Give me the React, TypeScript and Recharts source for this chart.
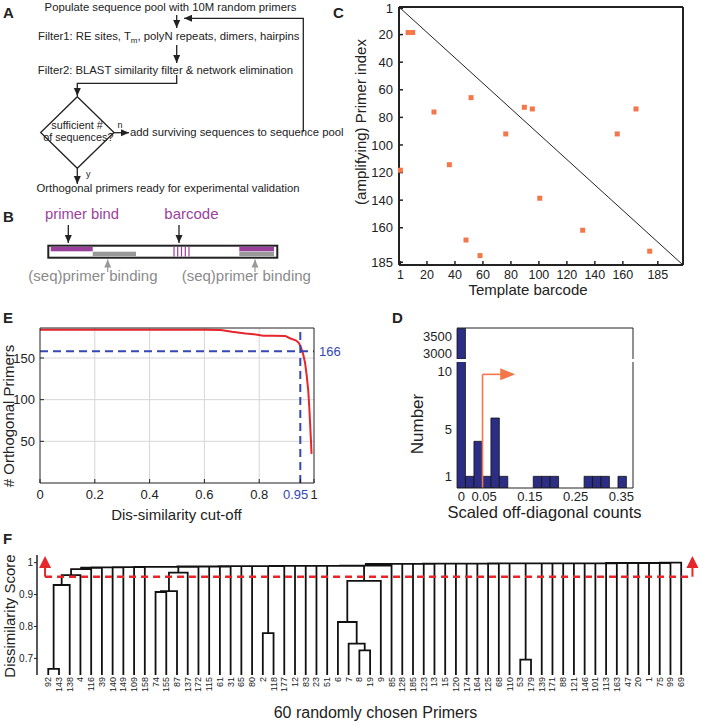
import {
  ScatterChart, Scatter, LineChart, Line, BarChart, Bar, XAxis, YAxis,
  CartesianGrid, ReferenceLine, ReferenceDot,
} from 'recharts';

const FONT = '"Liberation Sans", Arial, Helvetica, sans-serif';
const INK = '#222';
const PURPLE = '#9b3f9c';
const GREY = '#999';
const ORANGE = '#f4774a';
const BLUE = '#3447b5';
const RED = '#e6262b';
const NAVY = '#2c2e86';

// C: off-diagonal amplification hits
const hitBarcode = [6.5, 9.8, 25, 51.5, 89.6, 95.3, 169.4, 76.3, 156, 36, 1, 100.6, 131.3, 47.9, 57.9, 179.2];
const hitPrimer = [18.5, 18.5, 76.1, 65.7, 72.7, 73.9, 73.9, 92, 92, 114.3, 118.3, 138.6, 161.8, 168.9, 180.2, 177];
const matrixTicks = [1, 20, 40, 60, 80, 100, 120, 140, 160, 185];

// E: primers left vs cut-off
const cutoff = [0, 0.3, 0.6, 0.66, 0.7, 0.75, 0.78, 0.815, 0.85, 0.895, 0.91, 0.935, 0.945, 0.952, 0.96, 0.967, 0.973, 0.979, 0.983, 0.986, 0.989, 0.991];
const orthogonal = [184, 184, 184, 183.5, 181.5, 179.5, 178.6, 176.6, 176.6, 176.5, 174, 171, 168, 163, 155, 145, 130, 111, 90, 70, 50, 35];
const cutoffTicks = [0, 0.2, 0.4, 0.6, 0.8, 0.95, 1];

// D: histogram of scaled off-diagonal counts
const binCenter = [0, 0.0185, 0.037, 0.0556, 0.0741, 0.0926, 0.1667, 0.1852, 0.2037, 0.2778, 0.2963, 0.3148, 0.3519];
const binCount = [3740, 1, 4, 1, 6, 1, 1, 1, 1, 1, 1, 1, 1];
const dTicks = [0, 0.05, 0.15, 0.25, 0.35];
const dTopTicks = [0.05, 0.1, 0.15, 0.2, 0.25, 0.3, 0.35];
const dMinorTicks = [1, 2, 3, 4, 5, 6, 7, 8, 9, 10];

// F: dendrogram of 60 primers
const leafLabels = [92, 143, 138, 4, 116, 39, 140, 149, 109, 158, 74, 155, 87, 137, 172, 115, 61, 31, 65, 80,
  2, 118, 177, 12, 83, 23, 51, 6, 7, 8, 19, 9, 85, 128, 185, 123, 13, 15, 120, 174,
  164, 125, 68, 110, 53, 179, 139, 171, 88, 121, 146, 101, 113, 163, 47, 20, 1, 75, 99, 69];
// [node, node, height]; nodes 0-59 are leaves, merge k makes node 60+k
const merges: [number, number, number][] = [
  [0, 1, 0.667], [60, 2, 0.93], [61, 3, 0.961], [62, 4, 0.98],
  [10, 11, 0.908], [64, 12, 0.911], [65, 13, 0.969],
  [20, 21, 0.779],
  [29, 30, 0.725], [28, 68, 0.746], [27, 69, 0.814], [70, 31, 0.943],
  [44, 45, 0.696],
  [63, 5, 0.984], [73, 6, 0.985], [74, 7, 0.985], [75, 8, 0.986], [76, 9, 0.986], [77, 66, 0.987],
  [78, 14, 0.987], [79, 15, 0.988], [80, 16, 0.988], [81, 17, 0.988], [82, 18, 0.989], [83, 19, 0.989],
  [84, 67, 0.989], [85, 22, 0.989], [86, 23, 0.99], [87, 24, 0.99], [88, 25, 0.99], [89, 26, 0.99],
  [90, 71, 0.99], [91, 32, 0.991], [92, 33, 0.996], [93, 34, 0.996], [94, 35, 0.996], [95, 36, 0.996],
  [96, 37, 0.997], [97, 38, 0.997], [98, 39, 0.997], [99, 40, 0.997], [100, 41, 0.997], [101, 42, 0.997],
  [102, 43, 0.998], [103, 72, 0.998], [104, 46, 0.998], [105, 47, 0.998], [106, 48, 0.998], [107, 49, 0.998],
  [108, 50, 0.998], [109, 51, 0.998], [110, 52, 0.998], [111, 53, 0.998], [112, 54, 0.999], [113, 55, 0.999],
  [114, 56, 0.999], [115, 57, 0.999], [116, 58, 0.999], [117, 59, 1.0],
];
const cutLine = 0.956;

const hits = hitBarcode.map((x, i) => ({ x, y: hitPrimer[i] }));
const cutData = cutoff.map((x, i) => ({ x, y: orthogonal[i] }));
const bins = binCenter.map((x, i) => ({ x, n: binCount[i] }));
const tallBins = binCenter.map((x, i) => ({ x, n: binCount[i] > 1000 ? binCount[i] : null }));
const leafTicks = leafLabels.map((_, i) => i + 1);

const treeX: number[] = leafLabels.map((_, i) => i + 1);
const treeH: number[] = leafLabels.map(() => 0);
const treeLines: { x: number; y: number | null }[] = [];
merges.forEach(([a, b, h]) => {
  treeLines.push(
    { x: treeX[a], y: treeH[a] }, { x: treeX[a], y: h },
    { x: treeX[b], y: h }, { x: treeX[b], y: treeH[b] }, { x: treeX[b], y: null },
  );
  treeX.push((treeX[a] + treeX[b]) / 2);
  treeH.push(h);
});

const D_X = [-0.0093, 0.3755];

const CutoffTick = ({ x, y, payload }: any) => {
  const special = payload.value === 0.95;
  return (
    <text x={special ? x + 8 : x} y={y} dy="0.71em" textAnchor={special ? 'end' : 'middle'}
      fill={special ? BLUE : INK} fontSize={13}>
      {payload.value}
    </text>
  );
};

const LeafTick = ({ x, y, payload }: any) => (
  <text x={x} y={y} transform={`rotate(-90 ${x} ${y})`} textAnchor="end" dy="0.33em" fontSize={9} fill={INK}>
    {leafLabels[payload.value - 1]}
  </text>
);

const arrowRight = (p: any) => (
  <polygon points={`${p.cx},${p.cy} ${p.cx - 15},${p.cy - 6} ${p.cx - 15},${p.cy + 6}`} fill={ORANGE} />
);
const arrowUp = (p: any) => (
  <polygon points={`${p.cx},${p.cy} ${p.cx - 6},${p.cy + 12} ${p.cx + 6},${p.cy + 12}`} fill={RED} />
);

const axisStyle = { stroke: INK };
const tickFont = { fill: INK, fontSize: 13 };

export default function App() {
  return (
    <div style={{ position: 'absolute', left: 0, top: 0, width: 704, height: 726, background: '#fff', fontFamily: FONT, overflow: 'hidden' }}>
      <svg width={704} height={726} style={{ position: 'absolute', left: 0, top: 0 }} fontFamily={FONT} fill={INK}>
        <defs>
          <marker id="ah" markerWidth="8" markerHeight="8" refX="8" refY="4" orient="auto" markerUnits="userSpaceOnUse">
            <path d="M0,0.5 L8,4 L0,7.5 z" fill={INK} />
          </marker>
          <marker id="ahg" markerWidth="8" markerHeight="8" refX="8" refY="4" orient="auto" markerUnits="userSpaceOnUse">
            <path d="M0,0.5 L8,4 L0,7.5 z" fill={GREY} />
          </marker>
        </defs>

        {/* panel letters */}
        <g fontWeight="bold" fontSize={15}>
          <text x={3} y={18}>A</text>
          <text x={3} y={222}>B</text>
          <text x={333} y={18}>C</text>
          <text x={3} y={323}>E</text>
          <text x={392} y={323}>D</text>
          <text x={3} y={544}>F</text>
        </g>

        {/* A: flow chart */}
        <g fontSize={11.3}>
          <text x={170.5} y={11} textAnchor="middle">Populate sequence pool with 10M random primers</text>
          <text x={168.8} y={40} textAnchor="middle">
            Filter1: RE sites, T<tspan fontSize={8} dy={3}>m</tspan><tspan dy={-3}>, polyN repeats, dimers, hairpins</tspan>
          </text>
          <text x={165.5} y={74} textAnchor="middle">Filter2: BLAST similarity filter &amp; network elimination</text>
          <text x={130} y={136}>add surviving sequences to sequence pool</text>
          <text x={168} y={192} textAnchor="middle">Orthogonal primers ready for experimental validation</text>
        </g>
        <g stroke={INK} strokeWidth={1.3} fill="none">
          <line x1={176.7} y1={15} x2={176.7} y2={28} markerEnd="url(#ah)" />
          <polyline points="303.3,131.7 303.3,18.3 184,18.3" markerEnd="url(#ah)" />
          <line x1={176.7} y1={45} x2={176.7} y2={63} markerEnd="url(#ah)" />
          <polyline points="176.7,75 176.7,83.3 77.3,83.3 77.3,96" markerEnd="url(#ah)" />
          <polygon points="77.3,96.7 114,132.5 77.3,168.3 40.7,132.5" />
          <line x1={114} y1={132.7} x2={129} y2={132.7} markerEnd="url(#ah)" />
          <line x1={77.3} y1={168.3} x2={77.3} y2={184} markerEnd="url(#ah)" />
        </g>
        <g fontSize={10.8} textAnchor="middle">
          <text x={77} y={129}>sufficient #</text>
          <text x={78.3} y={141}>of sequences?</text>
        </g>
        <text x={117.5} y={128} fontSize={9}>n</text>
        <text x={86} y={177} fontSize={9}>y</text>

        {/* B: construct layout */}
        <text x={45} y={219} fontSize={14.8} fill={PURPLE}>primer bind</text>
        <text x={164.3} y={219} fontSize={15} fill={PURPLE}>barcode</text>
        <g stroke={INK} strokeWidth={1.3}>
          <line x1={68.3} y1={225} x2={68.3} y2={243} markerEnd="url(#ah)" />
          <line x1={179} y1={225} x2={179} y2={243} markerEnd="url(#ah)" />
        </g>
        <rect x={48.3} y={245.7} width={229} height={12} fill="#fff" stroke={INK} strokeWidth={2} />
        <rect x={50.7} y={246.8} width={42} height={4.5} fill={PURPLE} />
        <rect x={92.7} y={251.7} width={43.3} height={4.5} fill={GREY} />
        <rect x={239.3} y={246.8} width={34.7} height={4.5} fill={PURPLE} />
        <rect x={239.3} y={251.7} width={34.7} height={4.5} fill={GREY} />
        <g stroke={PURPLE} strokeWidth={1.2}>
          {[174, 177.7, 181.5, 185.3, 189].map((x) => (
            <line key={x} x1={x} y1={247} x2={x} y2={256.5} />
          ))}
        </g>
        <g stroke={GREY} strokeWidth={1.2}>
          <line x1={107.7} y1={272} x2={107.7} y2={259.5} markerEnd="url(#ahg)" />
          <line x1={255} y1={272} x2={255} y2={259.5} markerEnd="url(#ahg)" />
        </g>
        <g fontSize={15} fill="#8a8a8a">
          <text x={28.3} y={281}>(seq)primer binding</text>
          <text x={181.7} y={281}>(seq)primer binding</text>
        </g>

        {/* axis titles */}
        <g fontSize={15}>
          <text x={366} y={122} textAnchor="middle" transform="rotate(-90 366 122)">(amplifying) Primer index</text>
          <text x={528} y={295} textAnchor="middle">Template barcode</text>
          <text x={14} y={416} textAnchor="middle" transform="rotate(-90 14 416)"># Orthogonal Primers</text>
          <text x={176.5} y={520} textAnchor="middle">Dis-similarity cut-off</text>
          <text x={15} y={616} textAnchor="middle" transform="rotate(-90 15 616)">Dissimilarity Score</text>
        </g>
        <text x={423} y={424} fontSize={17} textAnchor="middle" transform="rotate(-90 423 424)">Number</text>
        <text x={544.5} y={518} fontSize={16.5} textAnchor="middle">Scaled off-diagonal counts</text>
        <text x={375.5} y={718} fontSize={16} textAnchor="middle">60 randomly chosen Primers</text>
      </svg>

      {/* C */}
      <div style={{ position: 'absolute', left: 340, top: 0 }}>
        <ScatterChart width={360} height={300} margin={{ top: 6, right: 12, bottom: 5, left: 19 }}>
          <XAxis xAxisId="b" type="number" dataKey="x" domain={[0, 203]} ticks={matrixTicks} interval={0}
            tickSize={-4} tickMargin={9} height={30} axisLine={{ stroke: INK, strokeWidth: 2 }}
            tickLine={{ stroke: INK, strokeWidth: 1.5 }} tick={{ fill: INK, fontSize: 12.5 }} />
          <XAxis xAxisId="t" orientation="top" type="number" dataKey="x" domain={[0, 203]} ticks={matrixTicks} interval={0}
            tick={false} tickSize={-4} height={1} axisLine={{ stroke: INK, strokeWidth: 2 }}
            tickLine={{ stroke: INK, strokeWidth: 1.5 }} />
          <YAxis yAxisId="l" type="number" dataKey="y" domain={[0, 187]} reversed ticks={matrixTicks} interval={0}
            tickSize={-4} tickMargin={10} width={40} axisLine={{ stroke: INK, strokeWidth: 2 }}
            tickLine={{ stroke: INK, strokeWidth: 1.5 }} tick={tickFont} />
          <YAxis yAxisId="r" orientation="right" type="number" dataKey="y" domain={[0, 187]} reversed ticks={matrixTicks}
            interval={0} tick={false} tickSize={-4} width={5} axisLine={{ stroke: INK, strokeWidth: 2 }}
            tickLine={{ stroke: INK, strokeWidth: 1.5 }} />
          <ReferenceLine xAxisId="b" yAxisId="l" segment={[{ x: 0, y: 0 }, { x: 203, y: 187 }]} stroke={INK} strokeWidth={1} />
          <Scatter xAxisId="b" yAxisId="l" data={hits} fill={ORANGE} isAnimationActive={false}
            shape={(p: any) => <rect x={p.cx - 2.5} y={p.cy - 2.5} width={5} height={5} fill={ORANGE} />} />
        </ScatterChart>
      </div>

      {/* E */}
      <div style={{ position: 'absolute', left: 0, top: 300 }}>
        <LineChart width={350} height={225} data={cutData} margin={{ top: 27, right: 35, bottom: 12, left: 8 }}>
          <CartesianGrid xAxisId="b" yAxisId="l" stroke="#d6d6d6" verticalValues={[0.2, 0.4, 0.6, 0.8]} horizontalValues={[50, 100, 150]} />
          <XAxis xAxisId="b" type="number" dataKey="x" domain={[0, 1]} ticks={cutoffTicks} interval={0}
            tick={<CutoffTick />} tickSize={-4} tickMargin={11} height={30} axisLine={axisStyle} tickLine={axisStyle} />
          <XAxis xAxisId="t" orientation="top" type="number" dataKey="x" domain={[0, 1]} ticks={[0.2, 0.4, 0.6, 0.8]}
            tick={false} tickSize={-4} height={1} axisLine={axisStyle} tickLine={axisStyle} />
          <YAxis yAxisId="l" type="number" domain={[0, 186]} ticks={[50, 100, 150]} interval={0}
            tickSize={-4} tickMargin={9} width={32} axisLine={axisStyle} tickLine={axisStyle} tick={tickFont} />
          <YAxis yAxisId="r" orientation="right" type="number" domain={[0, 186]} ticks={[50, 100, 150]}
            tick={false} tickSize={-4} width={1} axisLine={axisStyle} tickLine={axisStyle} />
          <Line xAxisId="b" yAxisId="l" dataKey="y" stroke={RED} strokeWidth={2} dot={false} isAnimationActive={false} />
          <ReferenceLine xAxisId="b" yAxisId="l" y={158} stroke={BLUE} strokeWidth={2} strokeDasharray="8 5"
            label={{ value: '166', position: 'right', fill: BLUE, fontSize: 13 }} />
          <ReferenceLine xAxisId="b" yAxisId="l" x={0.95} stroke={BLUE} strokeWidth={2} strokeDasharray="8 5" />
        </LineChart>
      </div>

      {/* D (broken axis: bottom part) */}
      <div style={{ position: 'absolute', left: 390, top: 359 }}>
        <BarChart width={300} height={170} data={bins} margin={{ top: 3, right: 55, bottom: 16, left: 16 }}>
          <XAxis type="number" dataKey="x" domain={D_X} ticks={dTicks} interval={0} tickSize={0} tickMargin={4}
            tickLine={false} height={25} axisLine={axisStyle} tick={tickFont} />
          <YAxis yAxisId="l" type="number" domain={[0, 10.8]} allowDataOverflow ticks={[1, 5, 10]} interval={0}
            width={51} tickSize={0} tickMargin={5} tickLine={false} axisLine={false} tick={tickFont} />
          <YAxis yAxisId="r" orientation="right" type="number" domain={[0, 10.8]} allowDataOverflow ticks={dMinorTicks}
            interval={0} tick={false} tickSize={-3} width={2} axisLine={axisStyle} tickLine={axisStyle} />
          <Bar yAxisId="l" dataKey="n" barSize={8.4} fill={NAVY} stroke="#111" strokeWidth={0.8} isAnimationActive={false} />
          <ReferenceLine yAxisId="l" segment={[{ x: 0.0465, y: 0 }, { x: 0.0465, y: 9.74 }]} stroke={ORANGE} strokeWidth={1.6} />
          <ReferenceLine yAxisId="l" segment={[{ x: 0.0465, y: 9.74 }, { x: 0.09, y: 9.74 }]} stroke={ORANGE} strokeWidth={1.6} />
          <ReferenceDot yAxisId="l" x={0.118} y={9.74} shape={arrowRight} />
        </BarChart>
      </div>

      {/* D (broken axis: top part) */}
      <div style={{ position: 'absolute', left: 390, top: 310 }}>
        <BarChart width={300} height={56} data={tallBins} margin={{ top: 17, right: 55, bottom: 7, left: 16 }}>
          <XAxis xAxisId="b" type="number" dataKey="x" domain={D_X} hide />
          <XAxis xAxisId="t" orientation="top" type="number" dataKey="x" domain={D_X} ticks={dTopTicks} interval={0}
            tick={false} tickSize={-3} height={1} axisLine={axisStyle} tickLine={axisStyle} />
          <YAxis yAxisId="l" type="number" domain={[2850, 3750]} allowDataOverflow ticks={[3000, 3500]} interval={0}
            width={51} tickSize={0} tickMargin={5} tickLine={false} axisLine={false} tick={tickFont} />
          <YAxis yAxisId="r" orientation="right" type="number" domain={[2850, 3750]} allowDataOverflow ticks={[3000, 3500]}
            tick={false} tickSize={-3} width={2} axisLine={axisStyle} tickLine={axisStyle} />
          <Bar xAxisId="b" yAxisId="l" dataKey="n" barSize={8.4} fill={NAVY} stroke="#111" strokeWidth={0.8} isAnimationActive={false} />
        </BarChart>
      </div>

      {/* F */}
      <div style={{ position: 'absolute', left: 0, top: 530 }}>
        <LineChart width={704} height={196} data={treeLines} margin={{ top: 25, right: 11, bottom: 11, left: 7 }}>
          <XAxis type="number" dataKey="x" domain={[-0.05, 61.1]} ticks={leafTicks} interval={0} tick={<LeafTick />}
            axisLine={false} tickLine={false} tickSize={0} tickMargin={2} height={40} />
          <YAxis type="number" domain={[0.648, 1.024]} allowDataOverflow ticks={[0.7, 0.8, 0.9, 1]} interval={0}
            width={30} tickSize={3} tickMargin={1} axisLine={{ stroke: INK, strokeWidth: 1.5 }} tickLine={axisStyle}
            tick={{ fill: INK, fontSize: 10 }} />
          <Line dataKey="y" stroke="#111" strokeWidth={1.8} dot={false} connectNulls={false} isAnimationActive={false} />
          <ReferenceLine segment={[{ x: 0.7, y: cutLine }, { x: 61.05, y: cutLine }]} stroke={RED} strokeWidth={2.5} strokeDasharray="7 5" />
          <ReferenceLine segment={[{ x: 0.7, y: cutLine }, { x: 0.7, y: 1.0 }]} stroke={RED} strokeWidth={2} />
          <ReferenceLine segment={[{ x: 61.05, y: cutLine }, { x: 61.05, y: 1.0 }]} stroke={RED} strokeWidth={2} />
          <ReferenceDot x={0.7} y={1.021} shape={arrowUp} />
          <ReferenceDot x={61.05} y={1.021} shape={arrowUp} />
        </LineChart>
      </div>
    </div>
  );
}
